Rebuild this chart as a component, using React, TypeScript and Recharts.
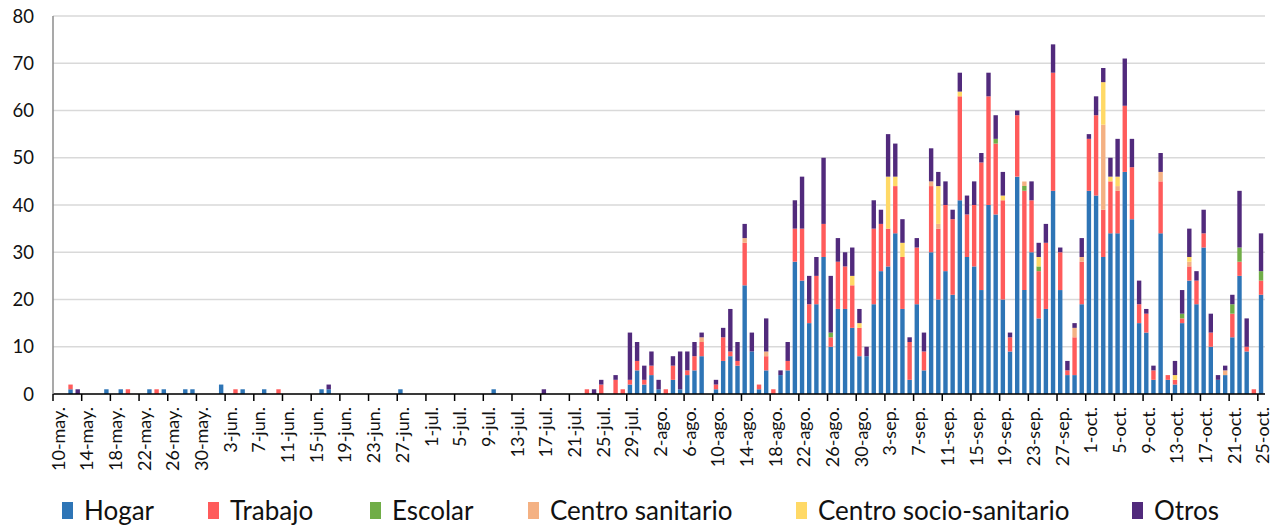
import { BarChart, Bar, XAxis, YAxis, CartesianGrid } from "recharts";

const monthNames = ["may.", "jun.", "jul.", "ago.", "sep.", "oct."];
const monthLengths = [31, 30, 31, 31, 30, 25];
const firstDay = 10;

const dates: string[] = [];
monthNames.forEach((m, mi) => {
  const start = mi === 0 ? firstDay : 1;
  for (let d = start; d <= monthLengths[mi]; d++) dates.push(`${d}-${m}`);
});

// one value per day, 10-may .. 25-oct (rows of 10)
const hogar = [
  0, 0, 1, 0, 0, 0, 0, 1, 0, 1,
  0, 0, 0, 1, 0, 1, 0, 0, 1, 1,
  0, 0, 0, 2, 0, 0, 1, 0, 0, 1,
  0, 0, 0, 0, 0, 0, 0, 1, 1, 0,
  0, 0, 0, 0, 0, 0, 0, 0, 1, 0,
  0, 0, 0, 0, 0, 0, 0, 0, 0, 0,
  0, 1, 0, 0, 0, 0, 0, 0, 0, 0,
  0, 0, 0, 0, 0, 0, 0, 0, 0, 0,
  2, 5, 2, 4, 1, 0, 3, 1, 4, 5,
  8, 0, 1, 7, 8, 6, 23, 9, 1, 5,
  0, 4, 5, 28, 24, 15, 19, 29, 10, 18,
  18, 14, 8, 8, 19, 26, 27, 34, 18, 3,
  19, 5, 30, 20, 26, 21, 41, 29, 27, 22,
  40, 38, 20, 9, 46, 22, 30, 16, 18, 43,
  22, 4, 4, 19, 43, 42, 29, 34, 34, 47,
  37, 15, 13, 3, 34, 3, 2, 15, 24, 19,
  31, 10, 3, 4, 12, 25, 9, 0, 21,
];

const trabajo = [
  0, 0, 1, 0, 0, 0, 0, 0, 0, 0,
  1, 0, 0, 0, 1, 0, 0, 0, 0, 0,
  0, 0, 0, 0, 0, 1, 0, 0, 0, 0,
  0, 1, 0, 0, 0, 0, 0, 0, 0, 0,
  0, 0, 0, 0, 0, 0, 0, 0, 0, 0,
  0, 0, 0, 0, 0, 0, 0, 0, 0, 0,
  0, 0, 0, 0, 0, 0, 0, 0, 0, 0,
  0, 0, 0, 0, 1, 0, 2, 0, 3, 1,
  1, 2, 1, 2, 0, 1, 3, 0, 1, 3,
  3, 0, 1, 5, 1, 1, 9, 0, 1, 3,
  1, 0, 2, 7, 11, 4, 6, 7, 2, 10,
  9, 9, 6, 0, 16, 10, 8, 10, 11, 8,
  12, 4, 14, 15, 14, 16, 22, 9, 13, 27,
  23, 15, 21, 3, 13, 21, 11, 10, 14, 25,
  8, 1, 8, 9, 11, 17, 10, 11, 9, 14,
  11, 4, 4, 2, 11, 1, 1, 1, 3, 5,
  3, 3, 0, 0, 5, 3, 1, 1, 3,
];

const escolar = [
  0, 0, 0, 0, 0, 0, 0, 0, 0, 0,
  0, 0, 0, 0, 0, 0, 0, 0, 0, 0,
  0, 0, 0, 0, 0, 0, 0, 0, 0, 0,
  0, 0, 0, 0, 0, 0, 0, 0, 0, 0,
  0, 0, 0, 0, 0, 0, 0, 0, 0, 0,
  0, 0, 0, 0, 0, 0, 0, 0, 0, 0,
  0, 0, 0, 0, 0, 0, 0, 0, 0, 0,
  0, 0, 0, 0, 0, 0, 0, 0, 0, 0,
  0, 0, 0, 0, 0, 0, 0, 0, 0, 0,
  0, 0, 0, 0, 0, 0, 0, 0, 0, 0,
  0, 0, 0, 0, 0, 0, 0, 0, 1, 0,
  0, 0, 0, 0, 0, 0, 0, 0, 0, 0,
  0, 0, 0, 0, 0, 0, 0, 0, 0, 0,
  0, 1, 0, 0, 0, 1, 0, 1, 0, 0,
  0, 0, 0, 0, 0, 0, 0, 0, 0, 0,
  0, 0, 0, 0, 0, 0, 0, 1, 0, 0,
  0, 0, 0, 0, 2, 3, 0, 0, 2,
];

const centroSanitario = [
  0, 0, 0, 0, 0, 0, 0, 0, 0, 0,
  0, 0, 0, 0, 0, 0, 0, 0, 0, 0,
  0, 0, 0, 0, 0, 0, 0, 0, 0, 0,
  0, 0, 0, 0, 0, 0, 0, 0, 0, 0,
  0, 0, 0, 0, 0, 0, 0, 0, 0, 0,
  0, 0, 0, 0, 0, 0, 0, 0, 0, 0,
  0, 0, 0, 0, 0, 0, 0, 0, 0, 0,
  0, 0, 0, 0, 0, 0, 0, 0, 0, 0,
  0, 0, 0, 0, 0, 0, 0, 0, 0, 0,
  1, 0, 0, 0, 0, 0, 1, 0, 0, 1,
  0, 0, 0, 0, 0, 0, 0, 0, 0, 0,
  0, 0, 0, 0, 0, 0, 0, 0, 0, 0,
  0, 0, 1, 1, 0, 0, 0, 0, 0, 0,
  0, 0, 0, 0, 0, 1, 0, 0, 0, 0,
  0, 0, 2, 1, 0, 0, 18, 0, 1, 0,
  0, 0, 0, 0, 2, 0, 0, 0, 1, 0,
  0, 0, 0, 1, 0, 0, 0, 0, 0,
];

const centroSocioSanitario = [
  0, 0, 0, 0, 0, 0, 0, 0, 0, 0,
  0, 0, 0, 0, 0, 0, 0, 0, 0, 0,
  0, 0, 0, 0, 0, 0, 0, 0, 0, 0,
  0, 0, 0, 0, 0, 0, 0, 0, 0, 0,
  0, 0, 0, 0, 0, 0, 0, 0, 0, 0,
  0, 0, 0, 0, 0, 0, 0, 0, 0, 0,
  0, 0, 0, 0, 0, 0, 0, 0, 0, 0,
  0, 0, 0, 0, 0, 0, 0, 0, 0, 0,
  0, 0, 0, 0, 0, 0, 0, 0, 0, 0,
  0, 0, 0, 0, 0, 0, 0, 0, 0, 0,
  0, 0, 0, 0, 0, 0, 0, 0, 0, 0,
  0, 2, 1, 0, 0, 0, 11, 2, 3, 0,
  0, 0, 0, 8, 0, 0, 1, 0, 0, 0,
  0, 0, 1, 0, 0, 0, 0, 2, 0, 0,
  0, 0, 0, 0, 0, 0, 9, 1, 2, 0,
  0, 0, 0, 0, 0, 0, 1, 0, 1, 0,
  0, 0, 0, 0, 0, 0, 0, 0, 0,
];

const otros = [
  0, 0, 0, 1, 0, 0, 0, 0, 0, 0,
  0, 0, 0, 0, 0, 0, 0, 0, 0, 0,
  0, 0, 0, 0, 0, 0, 0, 0, 0, 0,
  0, 0, 0, 0, 0, 0, 0, 0, 1, 0,
  0, 0, 0, 0, 0, 0, 0, 0, 0, 0,
  0, 0, 0, 0, 0, 0, 0, 0, 0, 0,
  0, 0, 0, 0, 0, 0, 0, 0, 1, 0,
  0, 0, 0, 0, 0, 1, 1, 0, 1, 0,
  10, 4, 3, 3, 2, 0, 2, 8, 4, 3,
  1, 0, 1, 2, 9, 4, 3, 4, 0, 7,
  0, 1, 4, 6, 11, 6, 4, 14, 12, 5,
  3, 6, 3, 2, 6, 3, 9, 7, 5, 1,
  2, 4, 7, 3, 5, 2, 4, 4, 5, 2,
  5, 5, 5, 1, 1, 0, 4, 3, 4, 6,
  1, 2, 1, 4, 1, 4, 3, 4, 8, 10,
  6, 5, 1, 1, 4, 0, 3, 5, 6, 2,
  5, 4, 1, 1, 2, 12, 6, 0, 8,
];

const yTicks = [0, 10, 20, 30, 40, 50, 60, 70, 80];

const series = [
  { key: "hogar", name: "Hogar", color: "#2E75B6" },
  { key: "trabajo", name: "Trabajo", color: "#FF5B5B" },
  { key: "escolar", name: "Escolar", color: "#70AD47" },
  { key: "centroSanitario", name: "Centro sanitario", color: "#F4B183" },
  { key: "centroSocioSanitario", name: "Centro socio-sanitario", color: "#FFD966" },
  { key: "otros", name: "Otros", color: "#512A7C" },
];

const data = dates.map((date, i) => ({
  date,
  hogar: hogar[i],
  trabajo: trabajo[i],
  escolar: escolar[i],
  centroSanitario: centroSanitario[i],
  centroSocioSanitario: centroSocioSanitario[i],
  otros: otros[i],
}));

const W = 1285;
const LEFT = 53;
const RIGHT = 20;
const TOP = 16;
const PLOT_BOTTOM = 394;
const CHART_H = 480;
const BAND = (W - LEFT - RIGHT) / dates.length;
const FONT = "Lato, 'Noto Sans', sans-serif";

const XTick = (props: any) => {
  const { x, payload } = props;
  const left = x - BAND / 2;
  return (
    <g>
      <line x1={left} x2={left} y1={PLOT_BOTTOM} y2={PLOT_BOTTOM + 7} stroke="#000" strokeWidth={1.5} />
      <text
        transform={`translate(${x + 1},${PLOT_BOTTOM + 13}) rotate(-90)`}
        textAnchor="end"
        dominantBaseline="central"
        fontSize={18}
        fontFamily={FONT}
        fill="#111"
      >
        {payload.value}
      </text>
    </g>
  );
};

const legendPos = [62, 208, 370, 528, 796, 1132];

export default function App() {
  return (
    <div style={{ position: "relative", width: W, height: 528, background: "#fff", fontFamily: FONT }}>
      <style>{"body{margin:0}"}</style>
      <BarChart
        width={W}
        height={CHART_H}
        data={data}
        margin={{ top: TOP, right: RIGHT, left: 0, bottom: 0 }}
        barSize={4.4}
      >
        <CartesianGrid vertical={false} stroke="#D9D9D9" strokeWidth={1.5} />
        <XAxis
          dataKey="date"
          interval={3}
          height={CHART_H - PLOT_BOTTOM}
          tickLine={false}
          tickSize={0}
          tickMargin={0}
          axisLine={{ stroke: "#000", strokeWidth: 1.5 }}
          tick={<XTick />}
        />
        <YAxis
          width={LEFT}
          domain={[0, 80]}
          ticks={yTicks}
          tickLine={false}
          tickSize={0}
          tickMargin={19}
          axisLine={{ stroke: "#8C8C8C", strokeWidth: 1.5 }}
          tick={{ fontSize: 18.5, fill: "#111", fontFamily: FONT }}
        />
        {series.map((s) => (
          <Bar
            key={s.key}
            dataKey={s.key}
            name={s.name}
            stackId="a"
            fill={s.color}
            isAnimationActive={false}
          />
        ))}
      </BarChart>
      {series.map((s, i) => (
        <div
          key={s.key}
          style={{
            position: "absolute",
            left: legendPos[i],
            top: 494,
            display: "flex",
            alignItems: "center",
            fontSize: 26,
            color: "#111",
            whiteSpace: "nowrap",
          }}
        >
          <span style={{ width: 11, height: 17, background: s.color, marginRight: 11, display: "inline-block" }} />
          {s.name}
        </div>
      ))}
    </div>
  );
}
